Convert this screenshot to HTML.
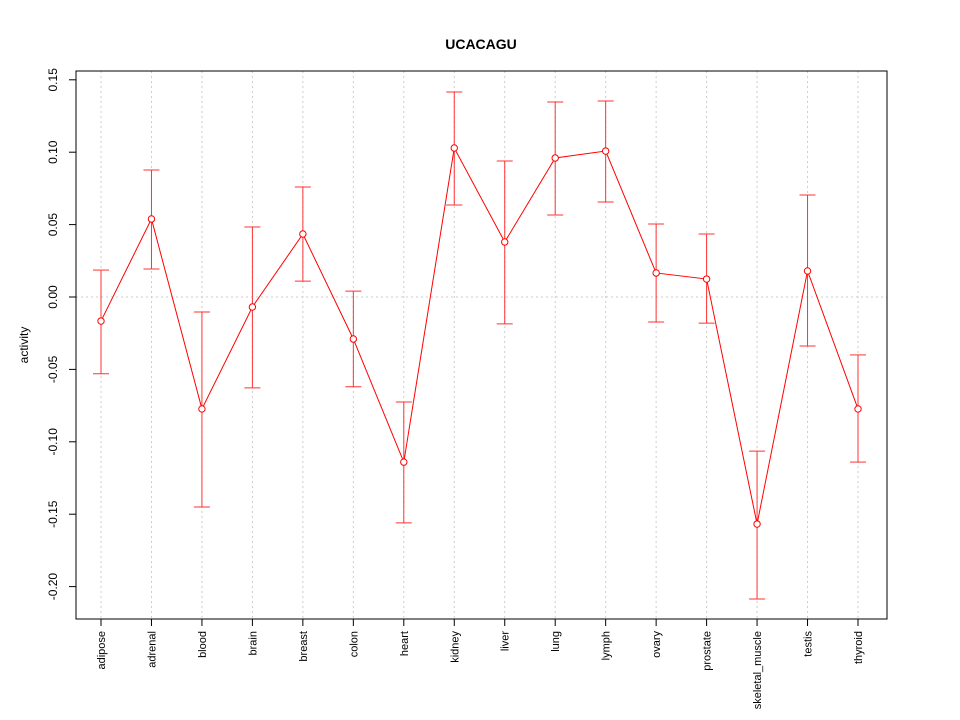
<!DOCTYPE html>
<html><head><meta charset="utf-8"><style>body{margin:0;background:#fff}svg{display:block;font-family:"Liberation Sans",sans-serif}</style></head>
<body>
<svg id="chart" width="960" height="720"></svg>
<script>
const categories=["adipose","adrenal","blood","brain","breast","colon","heart","kidney","liver","lung","lymph","ovary","prostate","skeletal_muscle","testis","thyroid"];
const values=[-0.0166,0.0539,-0.0773,-0.0069,0.0435,-0.029,-0.114,0.1029,0.038,0.096,0.1008,0.0166,0.0124,-0.1568,0.018,-0.0773];
const upper=[0.0186,0.0877,-0.0104,0.0483,0.076,0.0041,-0.0725,0.1416,0.0939,0.1347,0.1354,0.0504,0.0435,-0.1064,0.0704,-0.04];
const lower=[-0.053,0.0193,-0.145,-0.0628,0.011,-0.062,-0.156,0.0635,-0.0186,0.0566,0.0656,-0.0173,-0.018,-0.2086,-0.0338,-0.114];
const yTicks=[-0.2,-0.15,-0.1,-0.05,0,0.05,0.1,0.15];
const yLabels=["-0.20","-0.15","-0.10","-0.05","0.00","0.05","0.10","0.15"];
const NS="http://www.w3.org/2000/svg";
const svg=document.getElementById('chart');
const L=76,R=887,T=71,B=619;
const x=i=>101+i*(858-101)/(categories.length-1);
const y=v=>297-v*1448;
function mk(tag,attrs,parent){const e=document.createElementNS(NS,tag);for(const k in attrs)e.setAttribute(k,attrs[k]);(parent||svg).appendChild(e);return e;}
categories.forEach((c,i)=>{const g=mk('line',{x1:x(i),x2:x(i),y1:T,y2:B,stroke:'#ccc','stroke-dasharray':'2,3'});

});
const hg=mk('line',{x1:L,x2:R,y1:y(0),y2:y(0),stroke:'#ccc','stroke-dasharray':'2,3'});


const box=mk('rect',{x:L,y:T,width:R-L,height:B-T,fill:'none',stroke:'#000'});


yTicks.forEach((v,i)=>{mk('line',{x1:L-7,x2:L,y1:y(v),y2:y(v),stroke:'#000'});
const t=mk('text',{x:L-19,y:y(v),'font-size':12,'text-anchor':'middle',transform:`rotate(-90 ${L-19} ${y(v)})`});t.textContent=yLabels[i];

});
mk('line',{x1:L,x2:L,y1:y(-0.2),y2:y(0.15),stroke:'#000'});
categories.forEach((c,i)=>{mk('line',{x1:x(i),x2:x(i),y1:B,y2:B+7,stroke:'#000'});
const t=mk('text',{x:x(i)+4,y:B+12,'font-size':11,'text-anchor':'end',transform:`rotate(-90 ${x(i)+4} ${B+12})`});t.textContent=c;

});
mk('line',{x1:x(0),x2:x(categories.length-1),y1:B,y2:B,stroke:'#000'});
categories.forEach((c,i)=>{const g=mk('g',{stroke:'#f33',fill:'none'});


mk('line',{x1:x(i),x2:x(i),y1:y(upper[i]),y2:y(lower[i])},g);
mk('line',{x1:x(i)-8,x2:x(i)+8,y1:y(upper[i]),y2:y(upper[i])},g);
mk('line',{x1:x(i)-8,x2:x(i)+8,y1:y(lower[i]),y2:y(lower[i])},g);});
const pl=mk('polyline',{points:values.map((v,i)=>x(i)+','+y(v)).join(' '),fill:'none',stroke:'#f00'});


values.forEach((v,i)=>{const c=mk('circle',{cx:x(i),cy:y(v),r:3.2,fill:'#fff',stroke:'#f00'});

});
const ti=mk('text',{x:481,y:49,'font-size':14,'font-weight':'bold','text-anchor':'middle'});ti.textContent='UCACAGU';


const yl=mk('text',{x:28,y:345,'font-size':12,'text-anchor':'middle',transform:'rotate(-90 28 345)'});yl.textContent='activity';


</script>
</body></html>
